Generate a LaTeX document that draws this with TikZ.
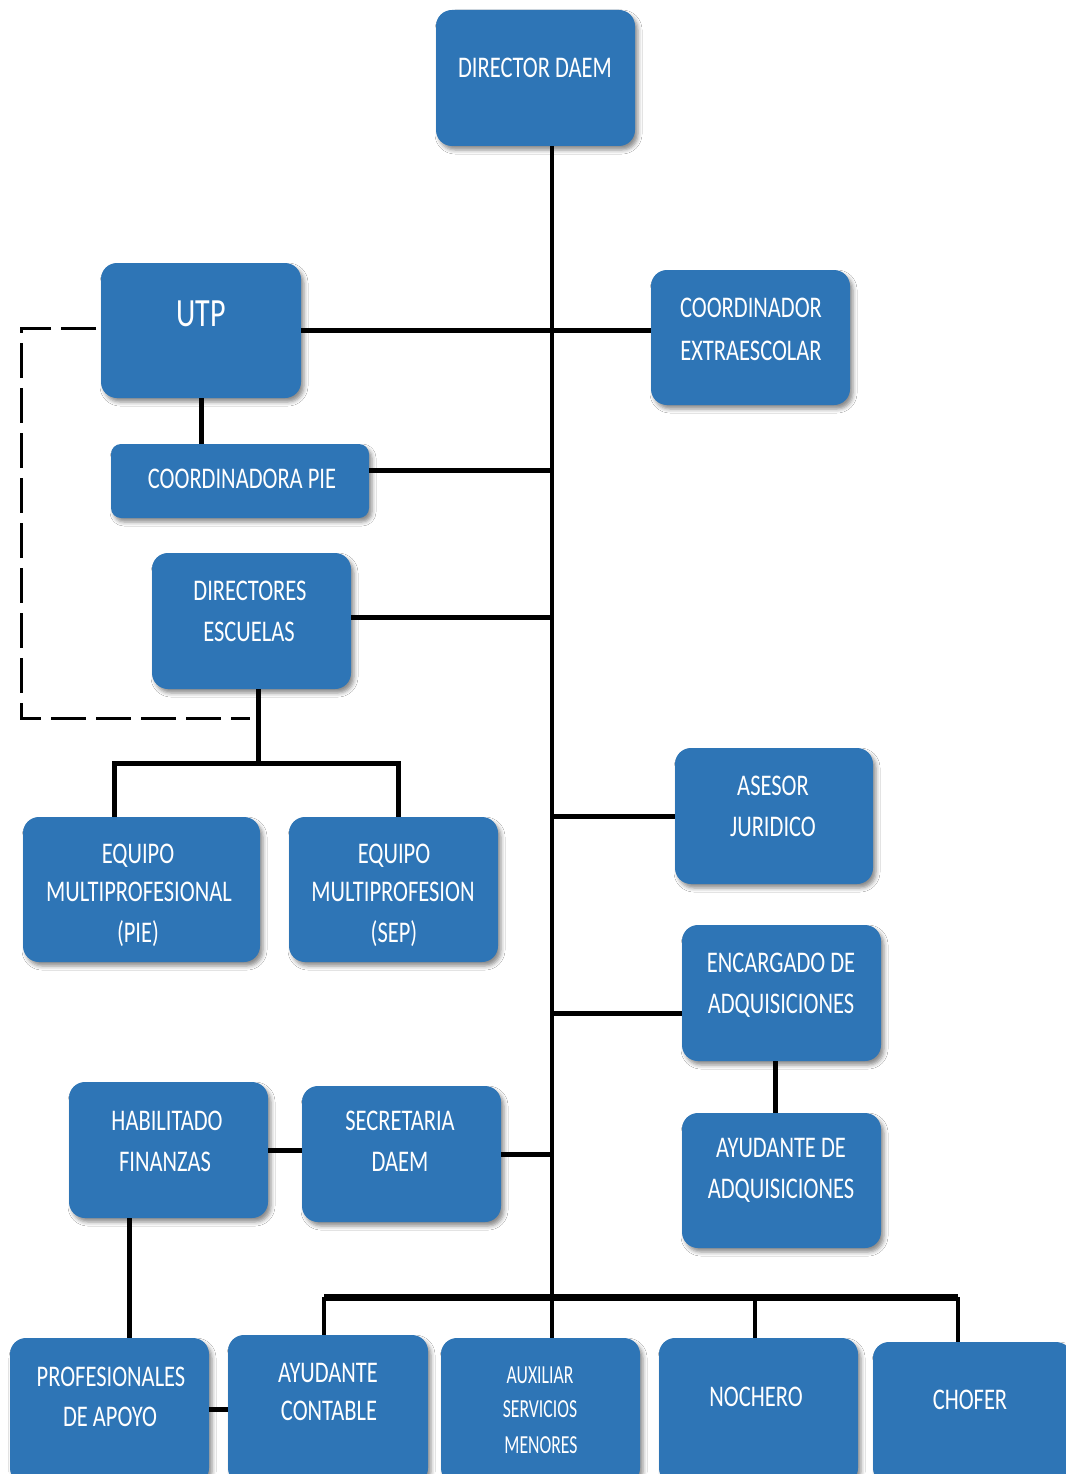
\documentclass[tikz,border=0pt]{standalone}
\usepackage{fontspec}
\newfontfamily\lblfont[FakeStretch=0.75]{Carlito}
\newfontfamily\lblsmfont[FakeStretch=0.68]{Carlito}
\usetikzlibrary{shadows.blur}
\definecolor{boxblue}{RGB}{46,117,182}
\tikzset{
  bx/.style 2 args={draw=none, fill=boxblue, rounded corners=16pt,
    minimum width=#1pt, minimum height=#2pt, inner sep=0pt,
    blur shadow={shadow xshift=3pt, shadow yshift=-4pt, shadow blur radius=4pt, shadow opacity=45}},
  txt/.style={text=white, font=\lblfont\fontsize{30}{36}\selectfont, anchor=base, inner sep=0pt},
  txtbig/.style={text=white, font=\lblfont\fontsize{40}{46}\selectfont, anchor=base, inner sep=0pt},
  txtsm/.style={text=white, font=\lblsmfont\fontsize{26}{30}\selectfont, anchor=base, inner sep=0pt},
  link/.style={draw=black, line width=5pt},
  trunkline/.style={draw=black, line width=4pt},
  busline/.style={draw=black, line width=7pt},
  dropline/.style={draw=black, line width=4pt},
  dashlink/.style={draw=black, line width=3pt, dash pattern=on 35pt off 10pt},
}
\begin{document}
\begin{tikzpicture}[x=1pt,y=-1pt]
\fill[white] (0,0) rectangle (1065,1474);
\useasboundingbox (0,0) rectangle (1065,1474);

% boxes
\node[bx={199}{136}] (dir) at (535.5,78) {};
\node[bx={200}{135}] (utp) at (201,330.5) {};
\node[bx={199}{135}] (coordx) at (750.5,337.5) {};
\node[bx={258}{74}, rounded corners=10pt] (pie) at (240,481) {};
\node[bx={199}{136}] (desc) at (251.5,621) {};
\node[bx={237}{145}] (eqpie) at (141.5,889.5) {};
\node[bx={209}{145}] (eqsep) at (393.5,889.5) {};
\node[bx={198}{136}] (ases) at (774,816) {};
\node[bx={199}{136}] (enc) at (781.5,993) {};
\node[bx={199}{135}] (ayad) at (781.5,1180.5) {};
\node[bx={199}{136}] (hab) at (168.5,1150) {};
\node[bx={199}{136}] (sec) at (401.5,1154) {};
\node[bx={199}{146}] (prof) at (109.5,1411) {};
\node[bx={200}{149}] (ayc) at (328,1409.5) {};
\node[bx={199}{146}] (aux) at (540.5,1411) {};
\node[bx={199}{146}] (noch) at (758.5,1411) {};
\node[bx={199}{142}] (chof) at (972.5,1413) {};

% texts
\node[txt] (dirT) at (535,78) {DIRECTOR DAEM};
\node[txtbig] (utpT) at (201,326) {UTP};
\node[txt] (coordxT1) at (751,317) {COORDINADOR};
\node[txt] (coordxT2) at (751,360) {EXTRAESCOLAR};
\node[txt] (pieT) at (242,488) {COORDINADORA PIE};
\node[txt] (descT1) at (250,600) {DIRECTORES};
\node[txt] (descT2) at (249,641) {ESCUELAS};
\node[txt] (eqpieT1) at (138,863) {EQUIPO};
\node[txt] (eqpieT2) at (139,901) {MULTIPROFESIONAL};
\node[txt] (eqpieT3) at (138,942) {(PIE)};
\node[txt] (eqsepT1) at (394,863) {EQUIPO};
\node[txt] (eqsepT2) at (393,901) {MULTIPROFESION};
\node[txt] (eqsepT3) at (394,942) {(SEP)};
\node[txt] (asesT1) at (773,795) {ASESOR};
\node[txt] (asesT2) at (773,836) {JURIDICO};
\node[txt] (encT1) at (781,972) {ENCARGADO DE};
\node[txt] (encT2) at (781,1013) {ADQUISICIONES};
\node[txt] (ayadT1) at (781,1157) {AYUDANTE DE};
\node[txt] (ayadT2) at (781,1198) {ADQUISICIONES};
\node[txt] (habT1) at (167,1130) {HABILITADO};
\node[txt] (habT2) at (165,1171) {FINANZAS};
\node[txt] (secT1) at (400,1130) {SECRETARIA};
\node[txt] (secT2) at (400,1171) {DAEM};
\node[txt] (profT1) at (111,1386) {PROFESIONALES};
\node[txt] (profT2) at (110,1426) {DE APOYO};
\node[txt] (aycT1) at (328,1382) {AYUDANTE};
\node[txt] (aycT2) at (329,1420) {CONTABLE};
\node[txtsm] (auxT1) at (540,1383) {AUXILIAR};
\node[txtsm] (auxT2) at (540,1417) {SERVICIOS};
\node[txtsm] (auxT3) at (541,1453) {MENORES};
\node[txt] (nochT) at (756,1406) {NOCHERO};
\node[txt] (chofT) at (970,1409) {CHOFER};

% junction coordinates
\coordinate (trk) at (552,0);
\coordinate (jPie) at (552,470);
\coordinate (jDesc) at (552,617);
\coordinate (jEnc) at (552,1013);
\coordinate (jUtp) at (0,330);
\coordinate (b1) at (258,763);
\coordinate (b1L) at (114,763);
\coordinate (b1R) at (398,763);
\coordinate (ea) at (775,0);
\coordinate (hp) at (129,0);
\coordinate (bL) at (324,1297);
\coordinate (bM) at (755,1297);
\coordinate (bR) at (958,1297);
\coordinate (d1) at (21,328);
\coordinate (d2) at (21,718);
\coordinate (d3) at (250,718);
\coordinate (d0) at (96,328);

% connectors
\draw[trunkline] (trk |- dir.south) -- (trk |- aux.north);
\draw[link] (utp.east |- jUtp) -- (coordx.west |- jUtp);
\draw[link] (utp.south) -- (utp.south |- pie.north);
\draw[link] (pie.east |- jPie) -- (jPie);
\draw[link] (desc.east |- jDesc) -- (jDesc);
\draw[link] (b1 |- desc.south) -- (b1);
\draw[link] (b1L |- eqpie.north) -- (b1L) -- (b1R) -- (b1R |- eqsep.north);
\draw[link] (trk |- ases.west) -- (ases.west);
\draw[link] (jEnc) -- (jEnc -| enc.west);
\draw[link] (ea |- enc.south) -- (ea |- ayad.north);
\draw[link] (sec.east) -- (sec.east -| trk);
\draw[link] (hab.east) -- (hab.east -| sec.west);
\draw[link] (hp |- hab.south) -- (hp |- prof.north);
\draw[link] (prof.east |- ayc.west) -- (ayc.west);
\draw[busline] (bL) -- (bR);
\draw[dropline] (bL) -- (bL |- ayc.north);
\draw[dropline] (bM) -- (bM |- noch.north);
\draw[dropline] (bR) -- (bR |- chof.north);
\draw[dashlink] (d0) -- (d1) -- (d2) -- (d3);
\end{tikzpicture}
\end{document}
